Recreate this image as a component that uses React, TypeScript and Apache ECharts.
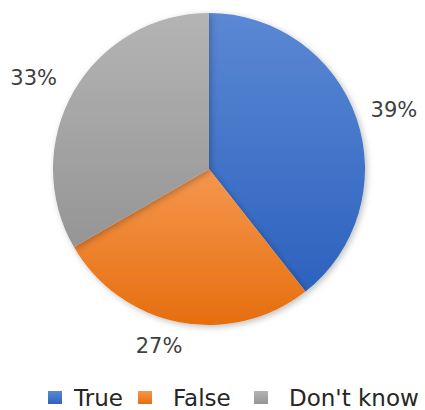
import React, { useEffect, useRef } from "react";
import * as echarts from "echarts";

const categories = ["True", "False", "Don't know"];
const values = [39, 27, 33];
const colorsTop = ["#5B88D4", "#F5974F", "#B4B4B4"];
const colorsBottom = ["#2C62BE", "#E66E0E", "#959595"];

export default function App() {
  const ref = useRef<HTMLDivElement>(null);
  useEffect(() => {
    if (!ref.current) return;
    const chart = echarts.init(ref.current, undefined, { renderer: "svg" });
    const font = "'DejaVu Sans', sans-serif";
    const legendLefts = [43, 133, 249];
    const legendPads = [7, 16, 16];
    const option = {
      animation: false,
      backgroundColor: "#ffffff",
      legend: categories.map((c, i) => ({
        data: [c],
        left: legendLefts[i],
        top: 381,
        icon: "rect",
        itemWidth: 14,
        itemHeight: 13,
        selectedMode: false,
        textStyle: {
          fontFamily: font,
          fontSize: 23,
          color: "#262626",
          padding: [0, 0, 0, legendPads[i]],
        },
      })),
      series: [
        {
          type: "pie",
          center: [209, 169],
          radius: 156,
          startAngle: 90,
          clockwise: true,
          avoidLabelOverlap: false,
          data: categories.map((c, i) => ({
            name: c,
            value: values[i],
            itemStyle: {
              color: new echarts.graphic.LinearGradient(0, 0, 0, 1, [
                { offset: 0, color: colorsTop[i] },
                { offset: 1, color: colorsBottom[i] },
              ]),
            },
          })),
          itemStyle: {
            borderWidth: 0,
            shadowBlur: 6,
            shadowOffsetX: 2,
            shadowOffsetY: 2,
            shadowColor: "rgba(0,0,0,0.25)",
          },
          label: {
            show: true,
            position: "outside",
            formatter: "{c}%",
            fontFamily: font,
            fontSize: 21,
            color: "#404040",
            alignTo: "none",
          },
          labelLine: { show: false, length: 16, length2: 0 },
          labelLayout: (p: any) => {
            if (p.dataIndex === 2) return { dy: -5, dx: 2 };
            if (p.dataIndex === 1) return { dy: 8, dx: 11 };
            return { dx: -6, dy: -3 };
          },
          emphasis: { disabled: true },
        },
      ],
    };
    chart.setOption(option as any);
    return () => chart.dispose();
  }, []);
  return (
    <div
      ref={ref}
      style={{ position: "fixed", left: 0, top: 0, width: 425, height: 410 }}
    />
  );
}
